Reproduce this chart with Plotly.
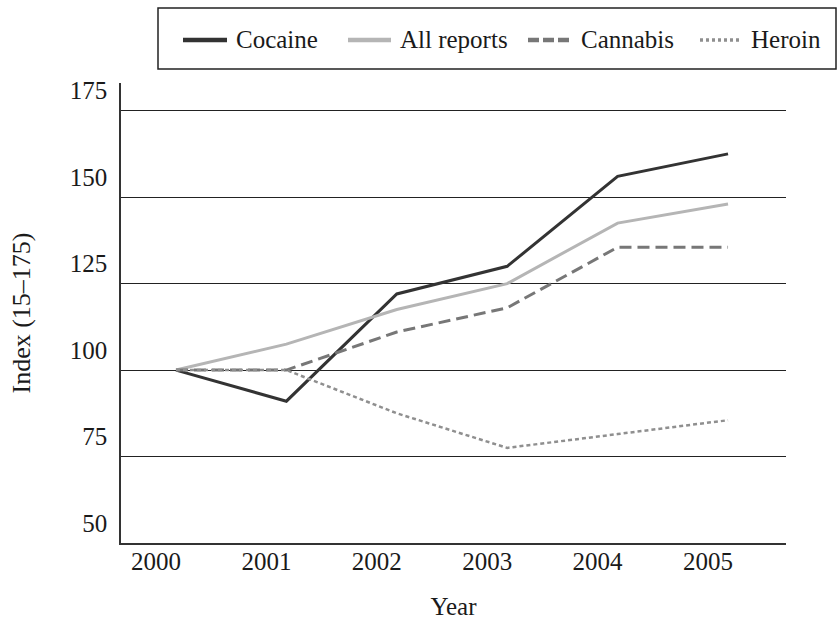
import plotly.graph_objects as go

years = [2000, 2001, 2002, 2003, 2004, 2005]
cocaine = [100, 91, 122, 130, 156, 162.5]
all_reports = [100, 107.5, 117.5, 125, 142.5, 148]
cannabis = [100, 100, 111, 118, 135.5, 135.5]
heroin = [100, 100, 87.5, 77.5, 81.5, 85.5]
y_ticks = [50, 75, 100, 125, 150, 175]
series_names = ["Cocaine", "All reports", "Cannabis", "Heroin"]

FONT = "Liberation Serif, Times New Roman, serif"
TXT = "#1a1a1a"

# plot area in pixels (for converting legend layout to paper coords)
L, R, T, B = 121, 786, 83, 543
def px(x):
    return (x - L) / (R - L)
def py(y):
    return (B - y) / (B - T)

styles = [
    dict(color="#333333", dash="solid", width=3),
    dict(color="#b5b5b5", dash="solid", width=3),
    dict(color="#777777", dash="12px,6px", width=3),
    dict(color="#8f8f8f", dash="4px,3px", width=2.5),
]
values = [cocaine, all_reports, cannabis, heroin]

fig = go.Figure()
for name, vals, st in zip(series_names, values, styles):
    fig.add_trace(go.Scatter(x=years, y=vals, name=name, mode="lines",
                             line=st, showlegend=False))

# legend (drawn as shapes + text inside a framed box)
legend_sym = [(183, 227), (348, 391), (528, 570), (700, 741)]
legend_txt = [234, 398, 579, 749]
legend_dash = ["solid", "solid", "11px,4px", "3px,3px"]
leg_y = 40
shapes = [dict(type="rect", xref="paper", yref="paper",
               x0=px(158), x1=px(836), y0=py(69), y1=py(8),
               line=dict(color="#222222", width=1.5), fillcolor="rgba(0,0,0,0)")]
annotations = []
for (x0, x1), tx, st, dsh, name in zip(legend_sym, legend_txt, styles, legend_dash, series_names):
    shapes.append(dict(type="line", xref="paper", yref="paper",
                       x0=px(x0), x1=px(x1), y0=py(leg_y), y1=py(leg_y),
                       line=dict(color=st["color"], width=4.5 if dsh != "3px,3px" else 3.5, dash=dsh)))
    annotations.append(dict(text=name, xref="paper", yref="paper", x=px(tx), y=py(leg_y),
                            xanchor="left", yanchor="middle", showarrow=False,
                            font=dict(family=FONT, size=25, color=TXT)))

fig.update_layout(
    width=838, height=624,
    margin=dict(l=L, r=838 - R, t=T, b=624 - B),
    paper_bgcolor="white", plot_bgcolor="white",
    font=dict(family=FONT, size=25, color=TXT),
    showlegend=False,
    xaxis=dict(range=[1999.502, 2005.525], tickvals=years, ticktext=[str(y) for y in years],
               showgrid=False, zeroline=False, showline=True, linecolor="#333333", linewidth=1.5,
               ticks="", ticklabelshift=-20, ticklabelstandoff=-5, automargin=False,
               tickfont=dict(family=FONT, size=25, color=TXT),
               title=dict(text="Year", font=dict(family=FONT, size=25, color=TXT), standoff=24)),
    yaxis=dict(range=[50, 183], tickvals=y_ticks, showgrid=True, gridcolor="#222222", gridwidth=1.3,
               zeroline=False, showline=True, linecolor="#333333", linewidth=1.5,
               ticks="", ticklabelshift=-20, ticklabelstandoff=7, automargin=False,
               tickfont=dict(family=FONT, size=25, color=TXT),
               title=dict(text="Index (15–175)", font=dict(family=FONT, size=26, color=TXT), standoff=32)),
    shapes=shapes,
    annotations=annotations,
)

fig.write_html("out.html", config={"displayModeBar": False},
               post_script="document.body.style.margin='0';")
